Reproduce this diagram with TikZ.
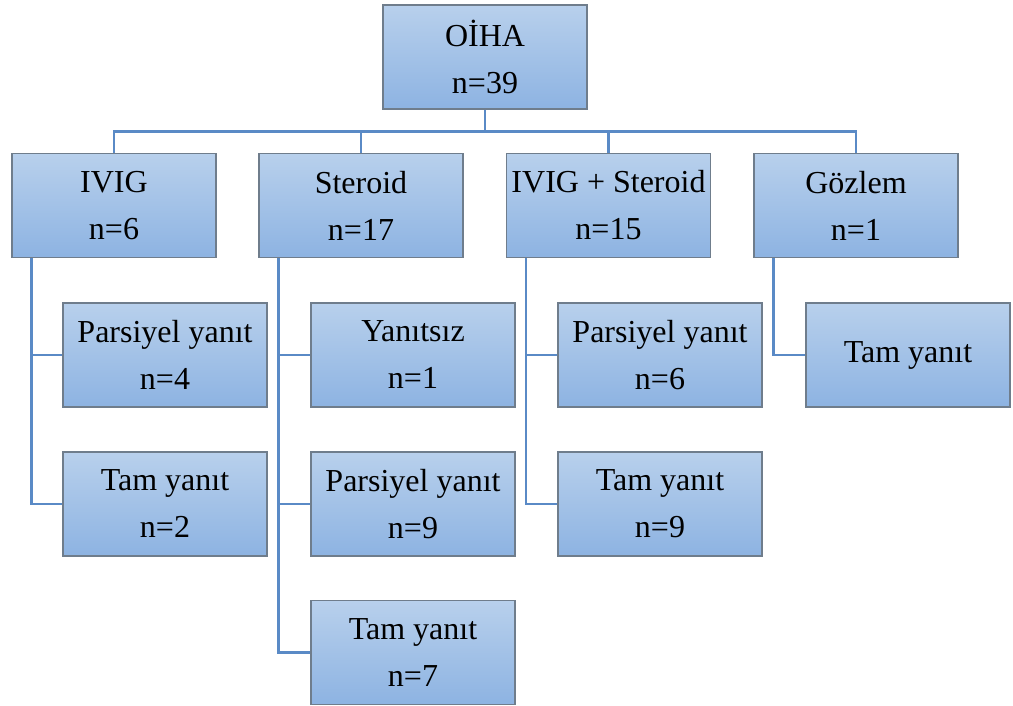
\documentclass[tikz,border=0pt]{standalone}
\usepackage{fontspec}
\setmainfont{Liberation Serif}
\definecolor{boxtop}{HTML}{B8D0EC}
\definecolor{boxbot}{HTML}{8DB3E2}
\definecolor{boxline}{HTML}{6F7D8C}
\definecolor{linkblue}{HTML}{5A8AC6}
\begin{document}
\begin{tikzpicture}[x=1pt, y=-1pt,
    tbox/.style={rectangle, draw=boxline, line width=1.2pt, top color=boxtop, bottom color=boxbot,
        minimum width=204pt, minimum height=104pt, inner sep=0pt, align=center,
        font=\fontsize{32}{47}\selectfont},
    link/.style={draw=linkblue, line width=2.8pt} ]
    % --- Root ---
    \node[tbox] (oiha) at (485, 57) {OİHA\\n=39};

    % --- Treatment groups ---
    \node[tbox] (ivig) at (114, 205.5) {IVIG\\n=6};
    \node[tbox] (ster) at (361, 205.5) {Steroid\\n=17};
    \node[tbox] (both) at (608.5, 205.5) {IVIG + Steroid\\n=15};
    \node[tbox] (gozl) at (856, 205.5) {Gözlem\\n=1};

    % --- Responses ---
    \node[tbox] (ivigP) at (165, 355) {Parsiyel yanıt\\n=4};
    \node[tbox] (ivigT) at (165, 504) {Tam yanıt\\n=2};
    \node[tbox] (sterY) at (413, 355) {Yanıtsız\\n=1};
    \node[tbox] (sterP) at (413, 504) {Parsiyel yanıt\\n=9};
    \node[tbox] (sterT) at (413, 652.5) {Tam yanıt\\n=7};
    \node[tbox] (bothP) at (660, 355) {Parsiyel yanıt\\n=6};
    \node[tbox] (bothT) at (660, 504) {Tam yanıt\\n=9};
    \node[tbox] (gozlT) at (908, 355) {Tam yanıt};

    % --- Connectors ---
    \foreach \g in {ivig, ster, both, gozl}
        \draw[link] (oiha.south) -- ++(0, 22) -| (\g.north);

    \draw[link] ([xshift=20pt]ivig.south west) |- (ivigP.west);
    \draw[link] ([xshift=20pt]ivig.south west) |- (ivigT.west);
    \draw[link] ([xshift=20pt]ster.south west) |- (sterY.west);
    \draw[link] ([xshift=20pt]ster.south west) |- (sterP.west);
    \draw[link] ([xshift=20pt]ster.south west) |- (sterT.west);
    \draw[link] ([xshift=20pt]both.south west) |- (bothP.west);
    \draw[link] ([xshift=20pt]both.south west) |- (bothT.west);
    \draw[link] ([xshift=20pt]gozl.south west) |- (gozlT.west);

    % Bounding box for padding
    \useasboundingbox (0, 0) rectangle (1013, 706);
\end{tikzpicture}
\end{document}
